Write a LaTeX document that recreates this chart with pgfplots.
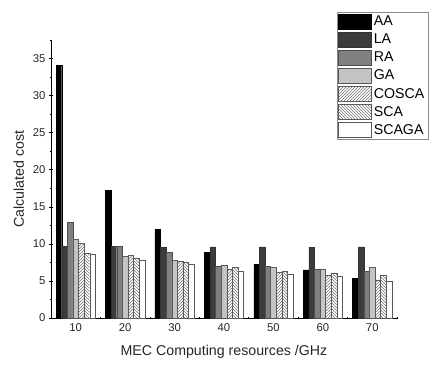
\documentclass[border=0pt]{standalone}
\usepackage{pgfplots}
\pgfplotsset{compat=1.18}
\usetikzlibrary{patterns}
\usepackage{fontspec}
\setmainfont{Liberation Sans}
\definecolor{cLA}{HTML}{3C3C3C}
\definecolor{cRA}{HTML}{808080}
\definecolor{cGA}{HTML}{C4C4C4}
\begin{document}
\begin{tikzpicture}
\path[use as bounding box] (-51pt,-55pt) rectangle (394pt,318pt);
\begin{axis}[
    at={(0,0)}, anchor=south west,
    scale only axis,
    width=346pt, height=278pt,
    ybar=0pt,
    bar width=5.6pt,
    xmin=5, xmax=75,
    ymin=0, ymax=37.5,
    xtick={10,20,...,70},
    minor xtick={15,25,...,75},
    ytick={0,5,...,35},
    minor ytick={2.5,7.5,...,37.5},
    every major x tick/.style={draw=none},
    tick align=outside,
    major tick length=4pt,
    minor tick length=2.5pt,
    axis lines=left,
    axis line style={-, black, line width=0.8pt},
    tick style={black, line width=0.6pt},
    /pgf/number format/assume math mode=true,
    ticklabel style={font=\fontsize{11.3}{13}\selectfont, color=black!85},
    xlabel={MEC Computing resources /GHz},
    ylabel={Calculated cost},
    label style={font=\fontsize{14.2}{16}\selectfont, color=black!85},
    xlabel style={yshift=-7pt},
    ylabel style={yshift=2pt},
    legend style={anchor=north east, at={(axis description cs:1.0896,1.1007)},
        draw=black!45, font=\fontsize{14.2}{16}\selectfont, inner sep=1.5pt,
        row sep=2.6pt, cells={anchor=west}, legend cell align=left},
    legend image code/.code={\draw[#1, line width=0.5pt] (0pt,-7.5pt) rectangle (33pt,7.5pt);},
]
\addplot[fill=black, draw=black, line width=0.4pt] coordinates {
    (10,34.1) (20,17.2) (30,11.97) (40,8.81) (50,7.2) (60,6.48) (70,5.36)};
\addplot[fill=cLA, draw=black!80, line width=0.4pt] coordinates {
    (10,9.62) (20,9.62) (30,9.54) (40,9.58) (50,9.58) (60,9.54) (70,9.58)};
\addplot[fill=cRA, draw=black!70, line width=0.4pt] coordinates {
    (10,12.86) (20,9.66) (30,8.81) (40,7.02) (50,6.97) (60,6.61) (70,6.34)};
\addplot[fill=cGA, draw=black!65, line width=0.4pt] coordinates {
    (10,10.66) (20,8.37) (30,7.74) (40,7.15) (50,6.84) (60,6.61) (70,6.84)};
\addplot[pattern=north east lines, pattern color=black!55, draw=black!65, line width=0.4pt] coordinates {
    (10,10.03) (20,8.46) (30,7.65) (40,6.57) (50,6.17) (60,5.76) (70,5.13)};
\addplot[pattern=north west lines, pattern color=black!55, draw=black!65, line width=0.4pt] coordinates {
    (10,8.73) (20,8.0) (30,7.51) (40,6.79) (50,6.3) (60,6.03) (70,5.8)};
\addplot[fill=white, draw=black!65, line width=0.4pt] coordinates {
    (10,8.64) (20,7.83) (30,7.29) (40,6.38) (50,5.94) (60,5.63) (70,4.99)};
\legend{AA,LA,RA,GA,COSCA,SCA,SCAGA}
\end{axis}
\end{tikzpicture}
\end{document}
